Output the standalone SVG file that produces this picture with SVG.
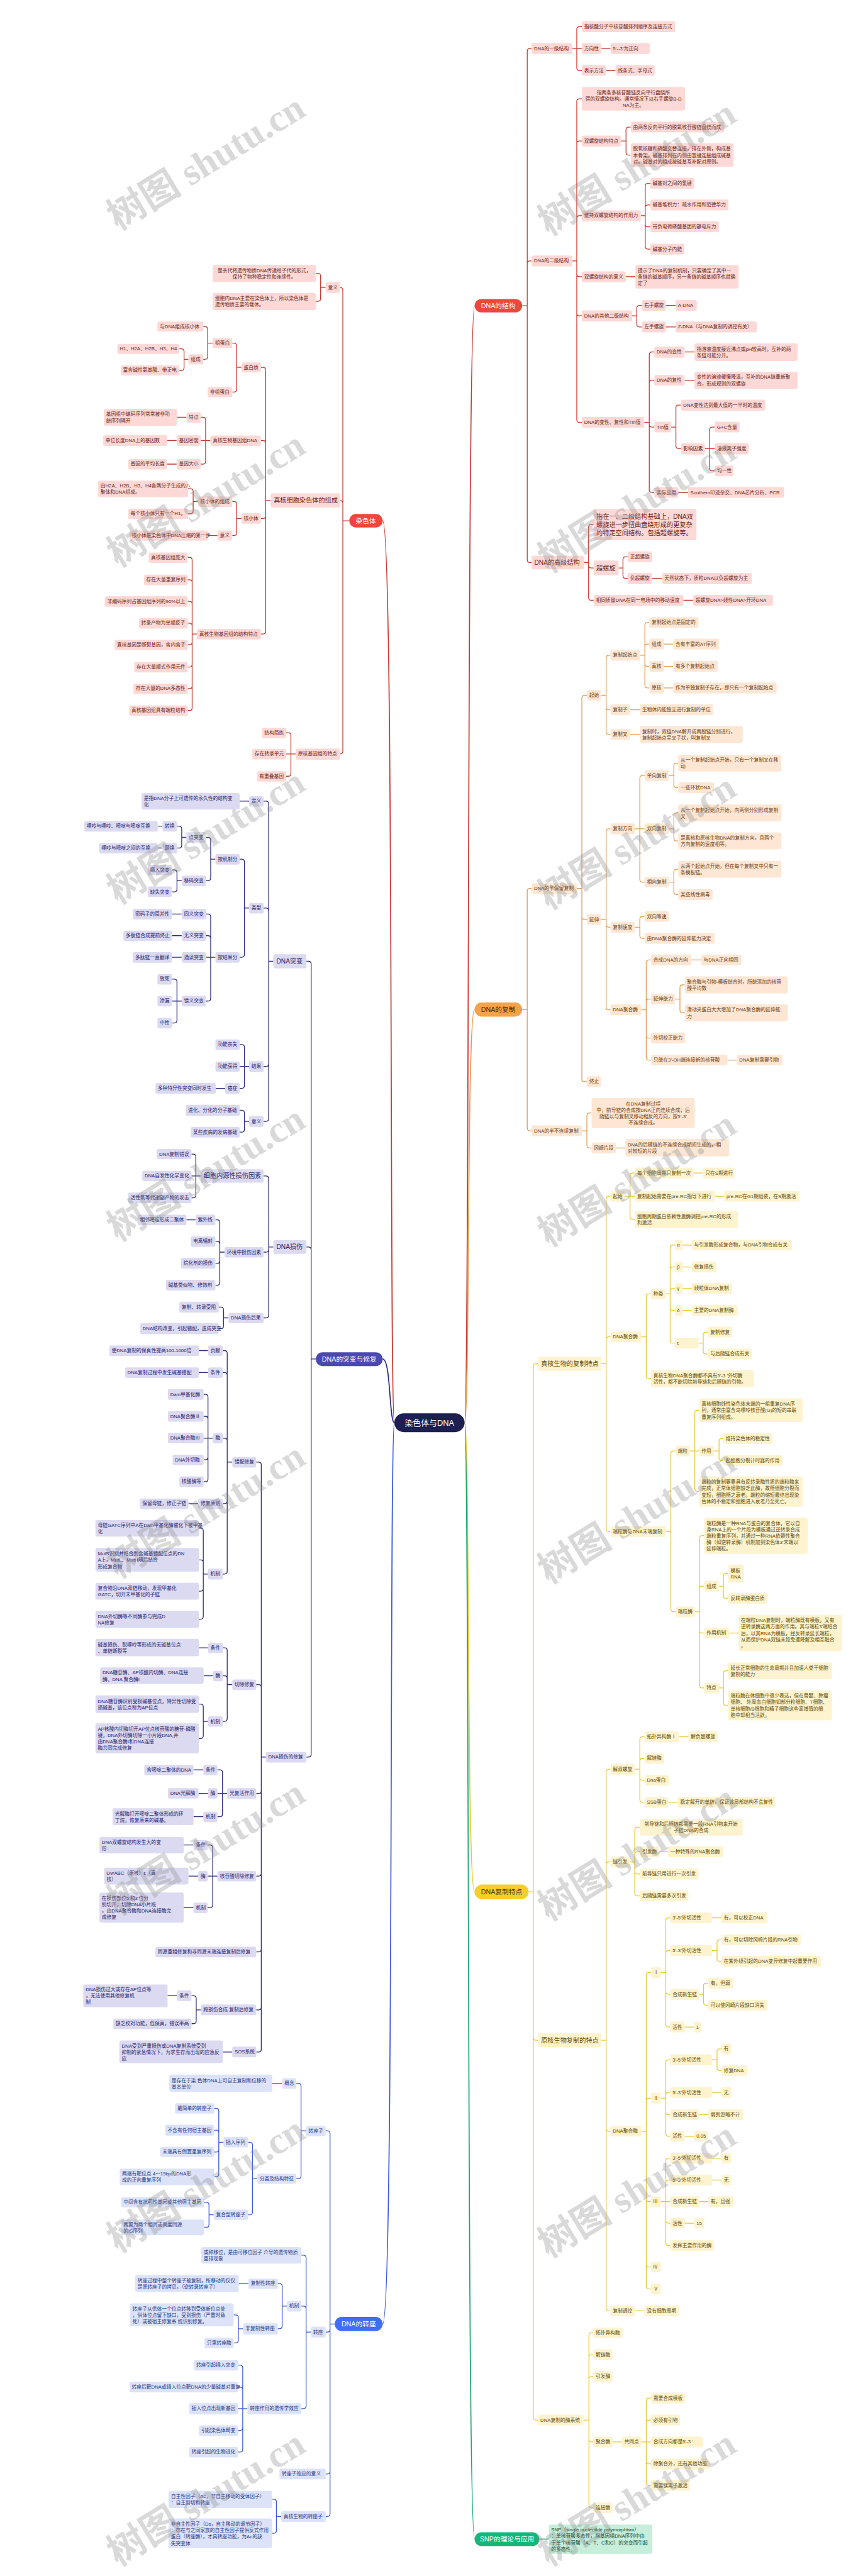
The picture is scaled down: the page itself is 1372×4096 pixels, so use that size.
<svg xmlns="http://www.w3.org/2000/svg" width="1372" height="4096" viewBox="0 0 1372 4096">
<style>
text{font-family:"Liberation Sans","Noto Sans CJK SC",sans-serif;font-size:14.5px;dominant-baseline:central}
rect{rx:6px;ry:6px}
.L{font-size:19px}
.c{text-anchor:middle}
.e{fill:none;stroke-width:2.4}
.m{fill:none;stroke-width:3.2}
.R rect{fill:#fcd9d6}.R text{fill:#6b1e16}
.O rect{fill:#fde7d4}.O text{fill:#6e3a10}
.Y rect{fill:#fdf3cf}.Y text{fill:#5e4a06}
.P rect{fill:#dcdaf1}.P text{fill:#25226a}
.B rect{fill:#dce3f8}.B text{fill:#1e3586}
.G rect{fill:#c6eedb}.G text{fill:#0c3f2b}
.er{stroke:#c8392e}.eo{stroke:#e99a4b}.ey{stroke:#ecc92c}.ep{stroke:#2e2c7e}.eb{stroke:#3b5ad8}.eg{stroke:#14a86f}
.mn text{font-size:20px;text-anchor:middle}
.wm text{font-family:"Liberation Serif","Noto Sans CJK SC",serif;font-weight:bold;font-size:112px;fill:#8a8a8a;opacity:0.32;dominant-baseline:auto}
</style>
<rect x="0" y="0" width="1372" height="4096" fill="#ffffff" style="rx:0"/>
<g transform="scale(0.5359375)">
<g id="connectors">
<path class="m er" d="M1378 4221C1394 4221 1384 907 1408 907M1170 4221C1154 4221 1170 1545 1135 1545"/>
<path class="m eo" d="M1378 4221C1394 4221 1384 2995 1408 2995"/>
<path class="m ey" d="M1378 4221C1394 4221 1384 5613 1408 5613"/>
<path class="m eg" d="M1378 4221C1394 4221 1384 7533 1408 7533"/>
<path class="m ep" d="M1170 4221C1154 4221 1160 4032 1135 4032"/>
<path class="m eb" d="M1170 4221C1154 4221 1170 6895 1135 6895"/>
<path class="e er" d="M1549 907H1564V152Q1564 144 1572 144H1577M1549 907H1564V782Q1564 774 1572 774H1577M1549 907H1564V1661Q1564 1669 1572 1669H1577M1698 144H1711V87Q1711 79 1719 79H1726M1698 144H1726M1698 144H1711V201Q1711 209 1719 209H1726M1784 144H1811M1798 209H1826M1698 774H1711V301Q1711 293 1719 293H1726M1698 774H1711V426Q1711 418 1719 418H1726M1698 774H1711V648Q1711 640 1719 640H1726M1698 774H1711V813Q1711 821 1719 821H1726M1698 774H1711V929Q1711 937 1719 937H1726M1698 774H1711V1245Q1711 1253 1719 1253H1726M1842 418H1857V385Q1857 377 1865 377H1871M1842 418H1857V452Q1857 460 1865 460H1871M1901 640H1914V552Q1914 544 1922 544H1929M1901 640H1914V616Q1914 608 1922 608H1929M1901 640H1914V665Q1914 673 1922 673H1929M1901 640H1914V731Q1914 739 1922 739H1929M1856 821H1885M1875 937H1889V914Q1889 906 1897 906H1904M1875 937H1889V962Q1889 970 1897 970H1904M1975 906H2004M1975 970H2004M1911 1253H1926V1052Q1926 1044 1934 1044H1941M1911 1253H1926V1136Q1926 1128 1934 1128H1941M1911 1253H1926V1259Q1926 1267 1934 1267H1941M1911 1253H1926V1453Q1926 1461 1934 1461H1941M2031 1044H2060M2031 1128H2060M2012 1461H2041M1991 1267H2005V1210Q2005 1202 2013 1202H2020M1991 1267H2005V1323Q2005 1331 2013 1331H2020M2091 1331H2105V1275Q2105 1267 2113 1267H2120M2091 1331H2120M2091 1331H2105V1389Q2105 1397 2113 1397H2120M1732 1669H1746V1564Q1746 1556 1754 1556H1761M1732 1669H1746V1677Q1746 1685 1754 1685H1761M1732 1669H1746V1773Q1746 1781 1754 1781H1761M1835 1685H1848V1660Q1848 1652 1856 1652H1862M1835 1685H1848V1708Q1848 1716 1856 1716H1862M1935 1716H1964M2027 1781H2056"/>
<path class="e eo" d="M1549 2995H1564V2644Q1564 2636 1572 2636H1577M1549 2995H1564V3347Q1564 3355 1572 3355H1577M1711 2636H1726V2071Q1726 2063 1734 2063H1741M1711 2636H1726V2720Q1726 2728 1734 2728H1741M1711 2636H1726V3201Q1726 3209 1734 3209H1741M1783 2063H1798V1952Q1798 1944 1806 1944H1811M1783 2063H1798V2098Q1798 2106 1806 2106H1811M1783 2063H1798V2171Q1798 2179 1806 2179H1811M1899 1944H1913V1855Q1913 1847 1921 1847H1926M1899 1944H1913V1919Q1913 1911 1921 1911H1926M1899 1944H1913V1969Q1913 1977 1921 1977H1926M1899 1944H1913V2033Q1913 2041 1921 2041H1926M1970 1911H1997M1970 1977H1997M1970 2041H1997M1869 2106H1898M1869 2179H1898M1783 2728H1798V2467Q1798 2459 1806 2459H1811M1783 2728H1798V2743Q1798 2751 1806 2751H1811M1783 2728H1798V2988Q1798 2996 1806 2996H1811M1883 2459H1898V2309Q1898 2301 1906 2301H1912M1883 2459H1912M1883 2459H1898V2609Q1898 2617 1906 2617H1912M1984 2301H1999V2272Q1999 2264 2007 2264H2012M1984 2301H1999V2329Q1999 2337 2007 2337H2012M1984 2459H1999V2420Q1999 2412 2007 2412H2012M1984 2459H1999V2487Q1999 2495 2007 2495H2012M1984 2617H1999V2587Q1999 2579 2007 2579H2012M1984 2617H1999V2646Q1999 2654 2007 2654H2012M1883 2751H1898V2727Q1898 2719 1906 2719H1912M1883 2751H1898V2776Q1898 2784 1906 2784H1912M1902 2996H1917V2856Q1917 2848 1925 2848H1931M1902 2996H1917V2972Q1917 2964 1925 2964H1931M1902 2996H1917V3072Q1917 3080 1925 3080H1931M1902 2996H1917V3137Q1917 3145 1925 3145H1931M2051 2848H2080M2002 2964H2017V2930Q2017 2922 2025 2922H2031M2002 2964H2017V2997Q2017 3005 2025 3005H2031M2158 3145H2186M1726 3355H1741V3310Q1741 3302 1749 3302H1755M1726 3355H1741V3398Q1741 3406 1749 3406H1755M1827 3406H1855"/>
<path class="e ey" d="M1568 5613H1582V4054Q1582 4046 1590 4046H1596M1568 5613H1582V6045Q1582 6053 1590 6053H1596M1568 5613H1582V7172Q1582 7180 1590 7180H1596M1784 4046H1798V3557Q1798 3549 1806 3549H1811M1784 4046H1798V3974Q1798 3966 1806 3966H1811M1784 4046H1798V4536Q1798 4544 1806 4544H1811M1854 3549H1869V3488Q1869 3480 1877 3480H1883M1854 3549H1883M1854 3549H1869V3610Q1869 3618 1877 3618H1883M2057 3480H2085M2121 3549H2148M1902 3966H1917V3847Q1917 3839 1925 3839H1931M1902 3966H1917V4082Q1917 4090 1925 4090H1931M1974 3839H1988V3702Q1988 3694 1996 3694H2002M1974 3839H1988V3767Q1988 3759 1996 3759H2002M1974 3839H1988V3831Q1988 3823 1996 3823H2002M1974 3839H1988V3880Q1988 3888 1996 3888H2002M1974 3839H1988V3977Q1988 3985 1996 3985H2002M2025 3694H2052M2025 3759H2052M2025 3823H2052M2025 3888H2052M2072 3985H2086V3960Q2086 3952 2094 3952H2100M2072 3985H2086V4009Q2086 4017 2094 4017H2100M1976 4544H1990V4313Q1990 4305 1998 4305H2005M1976 4544H1990V4774Q1990 4782 1998 4782H2005M2046 4305H2061V4192Q2061 4184 2069 4184H2074M2046 4305H2074M2046 4305H2061V4417Q2061 4425 2069 4425H2074M2118 4305H2133V4276Q2133 4268 2141 4268H2146M2118 4305H2133V4325Q2133 4333 2141 4333H2146M2061 4782H2075V4564Q2075 4556 2083 4556H2089M2061 4782H2075V4714Q2075 4706 2083 4706H2089M2061 4782H2075V4837Q2075 4845 2083 4845H2089M2061 4782H2075V5000Q2075 5008 2083 5008H2089M2133 4706H2146V4676Q2146 4668 2154 4668H2160M2133 4706H2146V4734Q2146 4742 2154 4742H2160M2163 4845H2191M2133 5008H2146V4965Q2146 4957 2154 4957H2160M2133 5008H2146V5052Q2146 5060 2154 5060H2160M1784 6053H1798V5257Q1798 5249 1806 5249H1811M1784 6053H1798V5532Q1798 5524 1806 5524H1811M1784 6053H1798V6315Q1798 6323 1806 6323H1811M1784 6053H1798V6848Q1798 6856 1806 6856H1811M1883 5249H1898V5161Q1898 5153 1906 5153H1912M1883 5249H1898V5225Q1898 5217 1906 5217H1912M1883 5249H1898V5274Q1898 5282 1906 5282H1912M1883 5249H1898V5339Q1898 5347 1906 5347H1912M2014 5153H2042M1982 5347H2011M1869 5524H1883V5429Q1883 5421 1891 5421H1898M1869 5524H1883V5502Q1883 5494 1891 5494H1898M1869 5524H1883V5552Q1883 5560 1891 5560H1898M1869 5524H1883V5617Q1883 5625 1891 5625H1898M1956 5494H1982M1902 6323H1917V5860Q1917 5852 1925 5852H1931M1902 6323H1917V6233Q1917 6225 1925 6225H1931M1902 6323H1917V6524Q1917 6532 1925 6532H1931M1902 6323H1917V6718Q1917 6726 1925 6726H1931M1902 6323H1917V6783Q1917 6791 1925 6791H1931M1960 5852H1975V5698Q1975 5690 1983 5690H1988M1960 5852H1975V5795Q1975 5787 1983 5787H1988M1960 5852H1975V5909Q1975 5917 1983 5917H1988M1960 5852H1975V6006Q1975 6014 1983 6014H1988M2112 5690H2140M2031 6014H2059M2112 5787H2127V5763Q2127 5755 2135 5755H2140M2112 5787H2127V5811Q2127 5819 2135 5819H2140M2074 5917H2087V5892Q2087 5884 2095 5884H2101M2074 5917H2087V5941Q2087 5949 2095 5949H2101M1960 6225H1975V6119Q1975 6111 1983 6111H1988M1960 6225H1975V6216Q1975 6208 1983 6208H1988M1960 6225H1975V6266Q1975 6274 1983 6274H1988M1960 6225H1975V6330Q1975 6338 1983 6338H1988M2112 6111H2127V6087Q2127 6079 2135 6079H2140M2112 6111H2127V6135Q2127 6143 2135 6143H2140M2112 6208H2140M2074 6274H2101M2031 6338H2059M1960 6532H1975V6411Q1975 6403 1983 6403H1988M1960 6532H1975V6476Q1975 6468 1983 6468H1988M1960 6532H1988M1960 6532H1975V6588Q1975 6596 1983 6596H1988M1960 6532H1975V6654Q1975 6662 1983 6662H1988M2112 6403H2140M2112 6468H2140M2074 6532H2101M2031 6596H2059M1883 6856H1912M1731 7180H1747V6929Q1747 6921 1755 6921H1760M1731 7180H1747V6994Q1747 6986 1755 6986H1760M1731 7180H1747V7059Q1747 7051 1755 7051H1760M1731 7180H1747V7237Q1747 7245 1755 7245H1760M1731 7180H1747V7432Q1747 7440 1755 7440H1760M1817 7245H1845M1902 7245H1917V7123Q1917 7115 1925 7115H1931M1902 7245H1917V7188Q1917 7180 1925 7180H1931M1902 7245H1931M1902 7245H1917V7302Q1917 7310 1925 7310H1931M1902 7245H1917V7366Q1917 7374 1925 7374H1931"/>
<path class="e eg" d="M1600 7533H1628"/>
<path class="e er" d="M1036 1545H1017V861Q1017 853 1009 853M1036 1545H1017V1493Q1017 1485 1009 1485M1036 1545H1017V2229Q1017 2237 1009 2237M966 853H951V819Q951 811 943 811H937M966 853H951V886Q951 894 943 894H937M803 1485H788V1098Q788 1090 780 1090H774M803 1485H788V1315Q788 1307 780 1307H774M803 1485H788V1530Q788 1538 780 1538H774M803 1485H788V1873Q788 1881 780 1881H774M716 1090H702V1026Q702 1018 694 1018H689M716 1090H702V1155Q702 1163 694 1163H689M631 1018H616V977Q616 969 608 969H603M631 1018H616V1058Q616 1066 608 1066H603M559 1066H546V1043Q546 1035 538 1035H532M559 1066H546V1091Q546 1099 538 1099H532M624 1307H610V1246Q610 1238 602 1238H596M624 1307H596M624 1307H610V1369Q610 1377 602 1377H596M553 1238H525M524 1307H496M524 1377H496M716 1538H702V1496Q702 1488 694 1488H689M716 1538H702V1581Q702 1589 694 1589H689M587 1488H573V1458Q573 1450 565 1450H558M587 1488H573V1516Q573 1524 565 1524H558M645 1589H617M584 1881H570V1662Q570 1654 562 1654H557M584 1881H570V1728Q570 1720 562 1720H557M584 1881H570V1792Q570 1784 562 1784H557M584 1881H570V1857Q570 1849 562 1849H557M584 1881H570V1905Q570 1913 562 1913H557M584 1881H570V1971Q570 1979 562 1979H557M584 1881H570V2035Q570 2043 562 2043H557M584 1881H570V2100Q570 2108 562 2108H557M877 2237H863V2182Q863 2174 855 2174H849M877 2237H849M877 2237H863V2295Q863 2303 855 2303H849"/>
<path class="e ep" d="M937 4032H923V2860Q923 2852 915 2852H909M937 4032H923V3708Q923 3700 915 3700H909M937 4032H923V5205Q923 5213 915 5213H909M811 2852H797V2385Q797 2377 789 2377H782M811 2852H797V2702Q797 2694 789 2694H782M811 2852H797V3156Q797 3164 789 3164H782M811 2852H797V3319Q797 3327 789 3327H782M739 2377H711M739 2694H725V2557Q725 2549 717 2549H711M739 2694H725V2832Q725 2840 717 2840H711M639 2549H625V2492Q625 2484 617 2484H611M639 2549H625V2605Q625 2613 617 2613H611M553 2484H539V2459Q539 2451 531 2451H525M553 2484H539V2508Q539 2516 531 2516H525M482 2451H468M482 2516H468M539 2613H525V2589Q525 2581 517 2581H510M539 2613H525V2638Q525 2646 517 2646H510M639 2840H625V2720Q625 2712 617 2712H611M639 2840H625V2784Q625 2776 617 2776H611M639 2840H611M639 2840H625V2962Q625 2970 617 2970H611M539 2712H510M539 2776H510M539 2840H510M539 2970H525V2913Q525 2905 517 2905H510M539 2970H510M539 2970H525V3027Q525 3035 517 3035H510M739 3164H725V3107Q725 3099 717 3099H711M739 3164H711M739 3164H725V3221Q725 3229 717 3229H711M668 3229H640M739 3327H725V3302Q725 3294 717 3294H711M739 3327H725V3351Q725 3359 717 3359H711M811 3700H797V3497Q797 3489 789 3489H782M811 3700H797V3707Q797 3715 789 3715H782M811 3700H797V3902Q797 3910 789 3910H782M595 3489H581V3432Q581 3424 573 3424H568M595 3489H568M595 3489H581V3546Q581 3554 573 3554H568M666 3715H652V3627Q652 3619 644 3619H639M666 3715H652V3691Q652 3683 644 3683H639M666 3715H652V3740Q652 3748 644 3748H639M666 3715H652V3805Q652 3813 644 3813H639M580 3619H553M678 3910H663V3886Q663 3878 655 3878H649M678 3910H663V3934Q663 3942 655 3942H649M789 5213H775V4346Q775 4338 767 4338H760M789 5213H775V5006Q775 4998 767 4998H760M789 5213H775V5313Q775 5321 767 5321H760M789 5213H775V5558Q775 5566 767 5566H760M789 5213H775V5783Q775 5791 767 5791H760M789 5213H775V5955Q775 5963 767 5963H760M789 5213H775V6080Q775 6088 767 6088H760M689 4338H674V4015Q674 4007 666 4007H661M689 4338H674V4080Q674 4072 666 4072H661M689 4338H674V4275Q674 4267 666 4267H661M689 4338H674V4453Q674 4461 666 4461H661M689 4338H674V4662Q674 4670 666 4670H661M617 4007H590M617 4072H590M588 4461H559M632 4267H617V4145Q617 4137 609 4137H604M632 4267H617V4210Q617 4202 609 4202H604M632 4267H604M632 4267H617V4323Q617 4331 609 4331H604M632 4267H617V4388Q617 4396 609 4396H604M617 4670H603V4542Q603 4534 595 4534H590M617 4670H603V4636Q603 4628 595 4628H590M617 4670H603V4713Q603 4721 595 4721H590M617 4670H603V4796Q603 4804 595 4804H590M689 4998H674V4897Q674 4889 666 4889H661M689 4998H674V4980Q674 4972 666 4972H661M689 4998H674V5099Q674 5107 666 5107H661M617 4889H590M632 4972H604M617 5107H603V5064Q603 5056 595 5056H590M617 5107H603V5150Q603 5158 595 5158H590M674 5321H660V5259Q660 5251 652 5251H645M674 5321H645M674 5321H660V5382Q660 5390 652 5390H645M603 5251H574M617 5321H589M603 5390H574M645 5566H631V5482Q631 5474 623 5474H616M645 5566H616M645 5566H631V5652Q631 5660 623 5660H616M574 5474H545M588 5566H559M574 5660H545M596 5963H582V5929Q582 5921 574 5921H568M596 5963H582V5996Q582 6004 574 6004H568M525 5921H497M689 6088H661"/>
<path class="e eb" d="M993 6895H979V6330Q979 6322 971 6322H966M993 6895H979V6911Q979 6919 971 6919H966M993 6895H979V7332Q979 7340 971 7340H966M993 6895H979V7458Q979 7466 971 7466H966M908 6322H893V6189Q893 6181 885 6181H879M908 6322H893V6456Q893 6464 885 6464H879M837 6181H808M763 6464H749V6364Q749 6356 741 6356H736M763 6464H749V6563Q749 6571 741 6571H736M663 6356H649V6263Q649 6255 641 6255H635M663 6356H649V6328Q649 6320 641 6320H635M663 6356H649V6377Q649 6385 641 6385H635M663 6356H649V6450Q649 6458 641 6458H635M634 6571H620V6542Q620 6534 612 6534H605M634 6571H620V6600Q620 6608 612 6608H605M922 6919H908V6699Q908 6691 900 6691H894M922 6919H908V6850Q908 6842 900 6842H894M922 6919H908V7138Q908 7146 900 7146H894M851 6842H837V6783Q837 6775 829 6775H824M851 6842H837V6901Q837 6909 829 6909H824M737 6775H708M721 6909H707V6876Q707 6868 699 6868H693M721 6909H707V6943Q707 6951 699 6951H693M734 7146H720V7025Q720 7017 712 7017H706M734 7146H720V7090Q720 7082 712 7082H706M734 7146H706M734 7146H720V7203Q720 7211 712 7211H706M734 7146H720V7267Q720 7275 712 7275H706M834 7466H820V7423Q820 7415 812 7415H807M834 7466H820V7508Q820 7516 812 7516H807"/>
</g>
<g id="nodes">
<g id="center" class="mn"><rect x="1170" y="4193" width="208" height="56" style="rx:28px;ry:28px" fill="#1c1f4f"/><text x="1274" y="4221" fill="#fff" style="font-size:24px">染色体与DNA</text></g>
<g id="m-structure" class="mn"><rect x="1408" y="887" width="141" height="40" style="rx:20px;ry:20px" fill="#f0463c"/><text x="1478" y="907" fill="#fff">DNA的结构</text></g>
<g id="m-replication" class="mn"><rect x="1408" y="2974" width="141" height="42" style="rx:21px;ry:21px" fill="#f5a24b"/><text x="1478" y="2995" fill="#4a2608">DNA的复制</text></g>
<g id="m-features" class="mn"><rect x="1408" y="5591" width="160" height="44" style="rx:22px;ry:22px" fill="#f6cf2a"/><text x="1488" y="5613" fill="#3d3208">DNA复制特点</text></g>
<g id="m-snp" class="mn"><rect x="1408" y="7513" width="192" height="41" style="rx:20px;ry:20px" fill="#16b67a"/><text x="1504" y="7533" fill="#fff">SNP的理论与应用</text></g>
<g id="m-chromosome" class="mn"><rect x="1036" y="1525" width="99" height="40" style="rx:20px;ry:20px" fill="#f0463c"/><text x="1085" y="1545" fill="#fff">染色体</text></g>
<g id="m-mutation" class="mn"><rect x="937" y="4012" width="198" height="41" style="rx:20px;ry:20px" fill="#4b48b2"/><text x="1036" y="4032" fill="#fff">DNA的突变与修复</text></g>
<g id="m-transposition" class="mn"><rect x="993" y="6874" width="142" height="42" style="rx:21px;ry:21px" fill="#3f6ff0"/><text x="1064" y="6895" fill="#fff">DNA的转座</text></g>

<g id="b-structure" class="R">
<g id="r1"><rect x="1577" y="128" width="121" height="32"/><text x="1584" y="144">DNA的一级结构</text></g>
<g id="r2"><rect x="1726" y="63" width="277" height="32"/><text x="1733" y="79">指核酸分子中核苷酸排列顺序及连接方式</text></g>
<g id="r3"><rect x="1726" y="128" width="58" height="32"/><text x="1733" y="144">方向性</text></g>
<g id="r4"><rect x="1811" y="128" width="117" height="32"/><text x="1818" y="144">5‘--3’为正向</text></g>
<g id="r5"><rect x="1726" y="193" width="72" height="32"/><text x="1733" y="209">表示方法</text></g>
<g id="r6"><rect x="1826" y="193" width="116" height="32"/><text x="1833" y="209">线条式、字母式</text></g>
<g id="r7"><rect x="1577" y="758" width="121" height="32"/><text x="1584" y="774">DNA的二级结构</text></g>
<g id="r8"><rect x="1726" y="258" width="306" height="70"/><text class="c" x="1879" y="274"><tspan x="1879" y="274">指两条多核苷酸链反向平行盘绕所</tspan><tspan x="1879" y="293">得的双螺旋结构。通常情况下以右手螺旋B-D</tspan><tspan x="1879" y="312">NA为主。</tspan></text></g>
<g id="r9"><rect x="1726" y="402" width="116" height="33"/><text x="1733" y="418">双螺旋结构特点</text></g>
<g id="r10"><rect x="1871" y="361" width="277" height="32"/><text x="1878" y="377">由两条反向平行的脱氧核苷酸链盘绕而成</text></g>
<g id="r11"><rect x="1871" y="425" width="305" height="70"/><text x="1878" y="441"><tspan x="1878" y="441">脱氧核糖和磷酸交替连接，排在外侧，构成基</tspan><tspan x="1878" y="460">本骨架，碱基排列在内侧由氢键连接组成碱基</tspan><tspan x="1878" y="479">对。碱基对的组成按碱基互补配对原则。</tspan></text></g>
<g id="r12"><rect x="1726" y="624" width="175" height="33"/><text x="1733" y="640">维持双螺旋结构的作用力</text></g>
<g id="r13"><rect x="1929" y="528" width="131" height="32"/><text x="1936" y="544">碱基对之间的氢键</text></g>
<g id="r14"><rect x="1929" y="592" width="232" height="32"/><text x="1936" y="608">碱基堆积力：疏水作用和范德华力</text></g>
<g id="r15"><rect x="1929" y="657" width="204" height="32"/><text x="1936" y="673">带负电荷磷酸基团的静电斥力</text></g>
<g id="r16"><rect x="1929" y="723" width="101" height="32"/><text x="1936" y="739">碱基分子内能</text></g>
<g id="r17"><rect x="1726" y="805" width="130" height="33"/><text x="1733" y="821">双螺旋结构的意义</text></g>
<g id="r18"><rect x="1885" y="786" width="306" height="70"/><text x="1892" y="802"><tspan x="1892" y="802">提示了DNA的复制机制，只要确定了其中一</tspan><tspan x="1892" y="821">条链的碱基顺序，另一条链的碱基顺序也就确</tspan><tspan x="1892" y="840">定了</tspan></text></g>
<g id="r19"><rect x="1726" y="921" width="149" height="33"/><text x="1733" y="937">DNA的其他二级结构</text></g>
<g id="r20"><rect x="1904" y="890" width="71" height="32"/><text x="1911" y="906">右手螺旋</text></g>
<g id="r21"><rect x="2004" y="890" width="63" height="32"/><text x="2011" y="906">A-DNA</text></g>
<g id="r22"><rect x="1904" y="954" width="71" height="32"/><text x="1911" y="970">左手螺旋</text></g>
<g id="r23"><rect x="2004" y="954" width="241" height="32"/><text x="2011" y="970">Z-DNA（与DNA复制的调控有关）</text></g>
<g id="r24"><rect x="1726" y="1237" width="185" height="32"/><text x="1733" y="1253">DNA的变性、复性和Tm值</text></g>
<g id="r25"><rect x="1941" y="1028" width="90" height="33"/><text x="1948" y="1044">DNA的变性</text></g>
<g id="r26"><rect x="2060" y="1019" width="306" height="52"/><text x="2067" y="1035"><tspan x="2067" y="1035.5">指溶液温度接近沸点或pH较高时，互补的两</tspan><tspan x="2067" y="1054.5">条链可能分开。</tspan></text></g>
<g id="r27"><rect x="1941" y="1112" width="90" height="32"/><text x="1948" y="1128">DNA的复性</text></g>
<g id="r28"><rect x="2060" y="1103" width="306" height="51"/><text x="2067" y="1118"><tspan x="2067" y="1118.5">变性的溶液缓慢降温，互补的DNA链重新聚</tspan><tspan x="2067" y="1137.5">合，形成规则的双螺旋</tspan></text></g>
<g id="r29"><rect x="1941" y="1251" width="50" height="32"/><text x="1948" y="1267">Tm值</text></g>
<g id="r30"><rect x="2020" y="1186" width="250" height="33"/><text x="2027" y="1202">DNA变性达到最大值的一半时的温度</text></g>
<g id="r31"><rect x="2020" y="1315" width="71" height="33"/><text x="2027" y="1331">影响因素</text></g>
<g id="r32"><rect x="2120" y="1251" width="74" height="32"/><text x="2127" y="1267">G+C含量</text></g>
<g id="r33"><rect x="2120" y="1315" width="101" height="33"/><text x="2127" y="1331">溶液离子强度</text></g>
<g id="r34"><rect x="2120" y="1381" width="56" height="32"/><text x="2127" y="1397">均一性</text></g>
<g id="r35"><rect x="1941" y="1445" width="71" height="32"/><text x="1948" y="1461">实际应用</text></g>
<g id="r36"><rect x="2041" y="1445" width="285" height="32"/><text x="2048" y="1461">Southern印迹杂交、DNA芯片分析、PCR</text></g>
<g id="r37"><rect x="1577" y="1649" width="155" height="40"/><text class="L" x="1585" y="1669">DNA的高级结构</text></g>
<g id="r38"><rect x="1761" y="1510" width="305" height="93"/><text class="L" x="1769" y="1531"><tspan x="1769" y="1531">指在一、二级结构基础上，DNA双</tspan><tspan x="1769" y="1556">螺旋进一步扭曲盘绕形成的更复杂</tspan><tspan x="1769" y="1581">的特定空间结构。包括超螺旋等。</tspan></text></g>
<g id="r39"><rect x="1761" y="1663" width="74" height="44"/><text class="L" x="1769" y="1685">超螺旋</text></g>
<g id="r40"><rect x="1862" y="1636" width="73" height="32"/><text x="1869" y="1652">正超螺旋</text></g>
<g id="r41"><rect x="1862" y="1700" width="73" height="33"/><text x="1869" y="1716">负超螺旋</text></g>
<g id="r42"><rect x="1964" y="1700" width="266" height="33"/><text x="1971" y="1716">天然状态下，质粒DNA以负超螺旋为主</text></g>
<g id="r43"><rect x="1761" y="1765" width="266" height="33"/><text x="1768" y="1781">相同质量DNA在同一电场中的移动速度</text></g>
<g id="r44"><rect x="2056" y="1765" width="237" height="33"/><text x="2063" y="1781">超螺旋DNA&gt;线性DNA&gt;开环DNA</text></g>
</g>

<g id="b-replication" class="O">
<g id="o1"><rect x="1577" y="2620" width="134" height="32"/><text x="1584" y="2636">DNA的半保留复制</text></g>
<g id="o2"><rect x="1741" y="2047" width="42" height="32"/><text x="1748" y="2063">起始</text></g>
<g id="o3"><rect x="1811" y="1928" width="88" height="32"/><text x="1818" y="1944">复制起始点</text></g>
<g id="o4"><rect x="1926" y="1831" width="146" height="32"/><text x="1933" y="1847">复制起始点是固定的</text></g>
<g id="o5"><rect x="1926" y="1895" width="44" height="32"/><text x="1933" y="1911">组成</text></g>
<g id="o6"><rect x="1997" y="1895" width="136" height="32"/><text x="2004" y="1911">含有丰富的AT序列</text></g>
<g id="o7"><rect x="1926" y="1961" width="44" height="32"/><text x="1933" y="1977">真核</text></g>
<g id="o8"><rect x="1997" y="1961" width="132" height="32"/><text x="2004" y="1977">有多个复制起始点</text></g>
<g id="o9"><rect x="1926" y="2025" width="44" height="32"/><text x="1933" y="2041">原核</text></g>
<g id="o10"><rect x="1997" y="2025" width="307" height="32"/><text x="2004" y="2041">作为单独复制子存在，即只有一个复制起始点</text></g>
<g id="o11"><rect x="1811" y="2090" width="58" height="32"/><text x="1818" y="2106">复制子</text></g>
<g id="o12"><rect x="1898" y="2090" width="217" height="32"/><text x="1905" y="2106">生物体内能独立进行复制的单位</text></g>
<g id="o13"><rect x="1811" y="2163" width="58" height="32"/><text x="1818" y="2179">复制叉</text></g>
<g id="o14"><rect x="1898" y="2154" width="305" height="50"/><text x="1905" y="2169"><tspan x="1905" y="2169.5">复制时，双链DNA解开成两股链分别进行，</tspan><tspan x="1905" y="2188.5">复制起始点呈叉子状，叫复制叉</tspan></text></g>
<g id="o15"><rect x="1741" y="2712" width="42" height="32"/><text x="1748" y="2728">延伸</text></g>
<g id="o16"><rect x="1811" y="2443" width="72" height="32"/><text x="1818" y="2459">复制方向</text></g>
<g id="o17"><rect x="1912" y="2285" width="72" height="32"/><text x="1919" y="2301">单向复制</text></g>
<g id="o18"><rect x="2012" y="2239" width="306" height="50"/><text x="2019" y="2254"><tspan x="2019" y="2254.5">从一个复制起始点开始，只有一个复制叉在移</tspan><tspan x="2019" y="2273.5">动</tspan></text></g>
<g id="o19"><rect x="2012" y="2321" width="106" height="32"/><text x="2019" y="2337">一些环状DNA</text></g>
<g id="o20"><rect x="1912" y="2443" width="72" height="32"/><text x="1919" y="2459">双向复制</text></g>
<g id="o21"><rect x="2012" y="2387" width="306" height="50"/><text x="2019" y="2402"><tspan x="2019" y="2402.5">从一个复制起始点开始，向两侧分别形成复制</tspan><tspan x="2019" y="2421.5">叉</tspan></text></g>
<g id="o22"><rect x="2012" y="2470" width="306" height="50"/><text x="2019" y="2485"><tspan x="2019" y="2485.5">是真核和原核生物DNA的复制方向，且两个</tspan><tspan x="2019" y="2504.5">方向复制的速度相等。</tspan></text></g>
<g id="o23"><rect x="1912" y="2601" width="72" height="32"/><text x="1919" y="2617">相向复制</text></g>
<g id="o24"><rect x="2012" y="2554" width="306" height="50"/><text x="2019" y="2569"><tspan x="2019" y="2569.5">从两个起始点开始，但在每个复制叉中只有一</tspan><tspan x="2019" y="2588.5">条模板链。</tspan></text></g>
<g id="o25"><rect x="2012" y="2638" width="102" height="32"/><text x="2019" y="2654">某些线性病毒</text></g>
<g id="o26"><rect x="1811" y="2735" width="72" height="32"/><text x="1818" y="2751">复制速度</text></g>
<g id="o27"><rect x="1912" y="2703" width="72" height="32"/><text x="1919" y="2719">双向等速</text></g>
<g id="o28"><rect x="1912" y="2768" width="208" height="32"/><text x="1919" y="2784">由DNA聚合酶的延伸能力决定</text></g>
<g id="o29"><rect x="1811" y="2980" width="91" height="32"/><text x="1818" y="2996">DNA聚合酶</text></g>
<g id="o30"><rect x="1931" y="2832" width="120" height="32"/><text x="1938" y="2848">合成DNA的方向</text></g>
<g id="o31"><rect x="2080" y="2832" width="119" height="32"/><text x="2087" y="2848">与DNA正向相同</text></g>
<g id="o32"><rect x="1931" y="2948" width="71" height="32"/><text x="1938" y="2964">延伸能力</text></g>
<g id="o33"><rect x="2031" y="2897" width="306" height="50"/><text x="2038" y="2912"><tspan x="2038" y="2912.5">聚合酶与引物-模板结合时，所能添加的核苷</tspan><tspan x="2038" y="2931.5">酸平均数</tspan></text></g>
<g id="o34"><rect x="2031" y="2980" width="306" height="50"/><text x="2038" y="2995"><tspan x="2038" y="2995.5">滑动夹蛋白大大增加了DNA聚合酶的延伸能</tspan><tspan x="2038" y="3014.5">力</tspan></text></g>
<g id="o35"><rect x="1931" y="3064" width="101" height="32"/><text x="1938" y="3080">外切校正能力</text></g>
<g id="o36"><rect x="1931" y="3129" width="227" height="32"/><text x="1938" y="3145">只能在3’-OH端连接新的核苷酸</text></g>
<g id="o37"><rect x="2186" y="3129" width="135" height="32"/><text x="2193" y="3145">DNA复制需要引物</text></g>
<g id="o38"><rect x="1741" y="3193" width="42" height="32"/><text x="1748" y="3209">终止</text></g>
<g id="o39"><rect x="1577" y="3339" width="149" height="32"/><text x="1584" y="3355">DNA的半不连续复制</text></g>
<g id="o40"><rect x="1755" y="3258" width="306" height="89"/><text class="c" x="1908" y="3274"><tspan x="1908" y="3274">在DNA复制过程</tspan><tspan x="1908" y="3293">中，前导链的合成按DNA正向连续合成；后</tspan><tspan x="1908" y="3312">随链以与复制叉移动相反的方向，按5’-3’</tspan><tspan x="1908" y="3331">不连续合成。</tspan></text></g>
<g id="o41"><rect x="1755" y="3390" width="72" height="32"/><text x="1762" y="3406">冈崎片段</text></g>
<g id="o42"><rect x="1855" y="3379" width="308" height="52"/><text x="1862" y="3395"><tspan x="1862" y="3395.5">DNA的后随链的不连续合成期间生成的，相</tspan><tspan x="1862" y="3414.5">对较短的片段</tspan></text></g>
</g>

<g id="b-features" class="Y">
<g id="y1"><rect x="1596" y="4025" width="188" height="42"/><text class="L" x="1605" y="4046">真核生物的复制特点</text></g>
<g id="y2"><rect x="1811" y="3533" width="43" height="32"/><text x="1818" y="3549">起始</text></g>
<g id="y3"><rect x="1883" y="3464" width="174" height="32"/><text x="1890" y="3480">每个细胞周期只复制一次</text></g>
<g id="y4"><rect x="2085" y="3464" width="94" height="32"/><text x="2092" y="3480">只在S期进行</text></g>
<g id="y5"><rect x="1883" y="3533" width="238" height="32"/><text x="1890" y="3549">复制起始需要在pre-RC指导下进行</text></g>
<g id="y6"><rect x="2148" y="3533" width="223" height="32"/><text x="2155" y="3549">pre-RC在G1期组装，在S期激活</text></g>
<g id="y7"><rect x="1883" y="3593" width="306" height="51"/><text x="1890" y="3608"><tspan x="1890" y="3608.5">细胞周期蛋白依赖性激酶调控pre-RC的形成</tspan><tspan x="1890" y="3627.5">和激活</tspan></text></g>
<g id="y8"><rect x="1811" y="3950" width="91" height="32"/><text x="1818" y="3966">DNA聚合酶</text></g>
<g id="y9"><rect x="1931" y="3823" width="43" height="32"/><text x="1938" y="3839">种类</text></g>
<g id="y10"><rect x="2002" y="3678" width="23" height="32"/><text x="2008" y="3694">α</text></g>
<g id="y11"><rect x="2052" y="3678" width="297" height="32"/><text x="2059" y="3694">与引发酶形成复合物，与DNA引物合成有关</text></g>
<g id="y12"><rect x="2002" y="3743" width="23" height="32"/><text x="2008" y="3759">β</text></g>
<g id="y13"><rect x="2052" y="3743" width="73" height="32"/><text x="2059" y="3759">修复损伤</text></g>
<g id="y14"><rect x="2002" y="3807" width="23" height="32"/><text x="2008" y="3823">γ</text></g>
<g id="y15"><rect x="2052" y="3807" width="120" height="32"/><text x="2059" y="3823">线粒体DNA复制</text></g>
<g id="y16"><rect x="2002" y="3872" width="23" height="32"/><text x="2008" y="3888">δ</text></g>
<g id="y17"><rect x="2052" y="3872" width="136" height="32"/><text x="2059" y="3888">主要的DNA复制酶</text></g>
<g id="y18"><rect x="2002" y="3969" width="70" height="32"/><text x="2008" y="3985">ε</text></g>
<g id="y19"><rect x="2100" y="3936" width="72" height="32"/><text x="2107" y="3952">复制修复</text></g>
<g id="y20"><rect x="2100" y="4001" width="130" height="32"/><text x="2107" y="4017">与后随链合成有关</text></g>
<g id="y21"><rect x="1931" y="4065" width="305" height="51"/><text x="1938" y="4080"><tspan x="1938" y="4080.5">真核生物DNA聚合酶都不具有5’-3 ’外切酶</tspan><tspan x="1938" y="4099.5">活性，都不能切除前导链和后随链的引物。</tspan></text></g>
<g id="y22"><rect x="1811" y="4528" width="165" height="32"/><text x="1818" y="4544">端粒酶与DNA末端复制</text></g>
<g id="y23"><rect x="2005" y="4289" width="41" height="32"/><text x="2011" y="4305">端粒</text></g>
<g id="y24"><rect x="2074" y="4149" width="307" height="70"/><text x="2081" y="4165"><tspan x="2081" y="4165">真核细胞线性染色体末端的一组重复DNA序</tspan><tspan x="2081" y="4184">列，通常由富含鸟嘌呤核苷酸(G)的短的串联</tspan><tspan x="2081" y="4203">重复序列组成。</tspan></text></g>
<g id="y25"><rect x="2074" y="4289" width="44" height="32"/><text x="2081" y="4305">作用</text></g>
<g id="y26"><rect x="2146" y="4252" width="145" height="32"/><text x="2153" y="4268">维持染色体的稳定性</text></g>
<g id="y27"><rect x="2146" y="4317" width="175" height="32"/><text x="2153" y="4333">起细胞分裂计时器的作用</text></g>
<g id="y28"><rect x="2074" y="4380" width="307" height="90"/><text x="2081" y="4396"><tspan x="2081" y="4396.5">端粒的复制要靠具有反转录酶性质的端粒酶来</tspan><tspan x="2081" y="4415.5">完成，正常体细胞缺乏此酶，故随细胞分裂而</tspan><tspan x="2081" y="4434.5">变短，细胞随之衰老。端粒的缩短最终出现染</tspan><tspan x="2081" y="4453.5">色体的不稳定和细胞进入衰老乃至死亡。</tspan></text></g>
<g id="y29"><rect x="2005" y="4766" width="56" height="32"/><text x="2011" y="4782">端粒酶</text></g>
<g id="y30"><rect x="2089" y="4503" width="307" height="107"/><text x="2096" y="4518"><tspan x="2096" y="4518.5">端粒酶是一种RNA与蛋白的复合体，它以自</tspan><tspan x="2096" y="4537.5">身RNA上的一个片段为模板通过逆转录合成</tspan><tspan x="2096" y="4556.5">端粒重复序列，并通过一种RNA依赖性聚合</tspan><tspan x="2096" y="4575.5">酶（如逆转录酶）机制加到染色体3’末端以</tspan><tspan x="2096" y="4594.5">延伸端粒。</tspan></text></g>
<g id="y31"><rect x="2089" y="4690" width="44" height="32"/><text x="2096" y="4706">组成</text></g>
<g id="y32"><rect x="2160" y="4642" width="46" height="53"/><text x="2167" y="4659"><tspan x="2167" y="4659">模板</tspan><tspan x="2167" y="4678">RNA</tspan></text></g>
<g id="y33"><rect x="2160" y="4726" width="117" height="32"/><text x="2167" y="4742">反转录酶蛋白质</text></g>
<g id="y34"><rect x="2089" y="4829" width="74" height="32"/><text x="2096" y="4845">作用机制</text></g>
<g id="y35"><rect x="2191" y="4791" width="306" height="108"/><text x="2198" y="4807"><tspan x="2198" y="4807">在端粒DNA复制时，端粒酶既有模板，又有</tspan><tspan x="2198" y="4826">逆转录酶这两方面的作用。其与端粒3'端结合</tspan><tspan x="2198" y="4845">后，以其RNA为模板，经反转录延长端粒，</tspan><tspan x="2198" y="4864">从而保护DNA双链末段免遭降解及相互融合</tspan><tspan x="2198" y="4883">。</tspan></text></g>
<g id="y36"><rect x="2089" y="4992" width="44" height="32"/><text x="2096" y="5008">特点</text></g>
<g id="y37"><rect x="2160" y="4932" width="308" height="50"/><text x="2167" y="4947"><tspan x="2167" y="4947.5">延长正常细胞的生命周期并且加速人类干细胞</tspan><tspan x="2167" y="4966.5">复制的能力</tspan></text></g>
<g id="y38"><rect x="2160" y="5015" width="308" height="89"/><text x="2167" y="5031"><tspan x="2167" y="5031">端粒酶在体细胞中很少表达，但在骨髓、肿瘤</tspan><tspan x="2167" y="5050">细胞、 外周血白细胞如部分粒细胞、T细胞、</tspan><tspan x="2167" y="5069">单核细胞/B细胞和精子细胞这些高增殖的细</tspan><tspan x="2167" y="5088">胞中却相当活跃。</tspan></text></g>
<g id="y39"><rect x="1596" y="6032" width="188" height="42"/><text class="L" x="1605" y="6053">原核生物复制的特点</text></g>
<g id="y40"><rect x="1811" y="5233" width="72" height="32"/><text x="1818" y="5249">解双螺旋</text></g>
<g id="y41"><rect x="1912" y="5137" width="102" height="32"/><text x="1919" y="5153">拓扑异构酶Ⅰ</text></g>
<g id="y42"><rect x="2042" y="5137" width="87" height="32"/><text x="2049" y="5153">解负超螺旋</text></g>
<g id="y43"><rect x="1912" y="5201" width="58" height="32"/><text x="1919" y="5217">解链酶</text></g>
<g id="y44"><rect x="1912" y="5266" width="72" height="32"/><text x="1919" y="5282">Dna蛋白</text></g>
<g id="y45"><rect x="1912" y="5331" width="70" height="32"/><text x="1919" y="5347">SSB蛋白</text></g>
<g id="y46"><rect x="2011" y="5331" width="289" height="32"/><text x="2018" y="5347">稳定解开的单链，保证该局部结构不会复性</text></g>
<g id="y47"><rect x="1811" y="5508" width="58" height="32"/><text x="1818" y="5524">链引发</text></g>
<g id="y48"><rect x="1898" y="5396" width="305" height="50"/><text class="c" x="2050" y="5411"><tspan x="2050" y="5411.5">前导链和后随链都需要一段RNA引物来开始</tspan><tspan x="2050" y="5430.5">子链DNA的合成</tspan></text></g>
<g id="y49"><rect x="1898" y="5478" width="58" height="32"/><text x="1905" y="5494">引发酶</text></g>
<g id="y50"><rect x="1982" y="5478" width="164" height="32"/><text x="1989" y="5494">一种特殊的RNA聚合酶</text></g>
<g id="y51"><rect x="1898" y="5544" width="174" height="32"/><text x="1905" y="5560">前导链只用进行一次引发</text></g>
<g id="y52"><rect x="1898" y="5609" width="144" height="32"/><text x="1905" y="5625">后随链需要多次引发</text></g>
<g id="y53"><rect x="1811" y="6307" width="91" height="32"/><text x="1818" y="6323">DNA聚合酶</text></g>
<g id="y54"><rect x="1931" y="5836" width="29" height="32"/><text x="1939" y="5852">Ⅰ</text></g>
<g id="y55"><rect x="1988" y="5674" width="124" height="32"/><text x="1995" y="5690">3’-5’外切活性</text></g>
<g id="y56"><rect x="2140" y="5674" width="136" height="32"/><text x="2147" y="5690">有，可以校正DNA</text></g>
<g id="y57"><rect x="1988" y="5771" width="124" height="32"/><text x="1995" y="5787">5’-3’外切活性</text></g>
<g id="y58"><rect x="2140" y="5739" width="236" height="32"/><text x="2147" y="5755">有，可以切除冈崎片段的RNA引物</text></g>
<g id="y59"><rect x="2140" y="5803" width="296" height="32"/><text x="2147" y="5819">在紫外线引起的DNA变异修复中起重要作用</text></g>
<g id="y60"><rect x="1988" y="5901" width="86" height="32"/><text x="1995" y="5917">合成新生链</text></g>
<g id="y61"><rect x="2101" y="5868" width="73" height="32"/><text x="2108" y="5884">有，但弱</text></g>
<g id="y62"><rect x="2101" y="5933" width="175" height="32"/><text x="2108" y="5949">可以使冈崎片段缺口消失</text></g>
<g id="y63"><rect x="1988" y="5998" width="43" height="32"/><text x="1995" y="6014">活性</text></g>
<g id="y64"><rect x="2059" y="5998" width="21" height="32"/><text x="2065" y="6014">1</text></g>
<g id="y65"><rect x="1931" y="6209" width="29" height="32"/><text x="1938" y="6225">Ⅱ</text></g>
<g id="y66"><rect x="1988" y="6095" width="124" height="32"/><text x="1995" y="6111">3’-5’外切活性</text></g>
<g id="y67"><rect x="2140" y="6063" width="29" height="32"/><text x="2147" y="6079">有</text></g>
<g id="y68"><rect x="2140" y="6127" width="77" height="32"/><text x="2147" y="6143">修复DNA</text></g>
<g id="y69"><rect x="1988" y="6192" width="124" height="32"/><text x="1995" y="6208">5’-3’外切活性</text></g>
<g id="y70"><rect x="2140" y="6192" width="29" height="32"/><text x="2147" y="6208">无</text></g>
<g id="y71"><rect x="1988" y="6258" width="86" height="32"/><text x="1995" y="6274">合成新生链</text></g>
<g id="y72"><rect x="2101" y="6258" width="103" height="32"/><text x="2108" y="6274">弱到忽略不计</text></g>
<g id="y73"><rect x="1988" y="6322" width="43" height="32"/><text x="1995" y="6338">活性</text></g>
<g id="y74"><rect x="2059" y="6322" width="42" height="32"/><text x="2066" y="6338">0.05</text></g>
<g id="y75"><rect x="1931" y="6516" width="29" height="32"/><text x="1937" y="6532">Ⅲ</text></g>
<g id="y76"><rect x="1988" y="6387" width="124" height="32"/><text x="1995" y="6403">3’-5’外切活性</text></g>
<g id="y77"><rect x="2140" y="6387" width="29" height="32"/><text x="2147" y="6403">有</text></g>
<g id="y78"><rect x="1988" y="6452" width="124" height="32"/><text x="1995" y="6468">5’-3’外切活性</text></g>
<g id="y79"><rect x="2140" y="6452" width="29" height="32"/><text x="2147" y="6468">无</text></g>
<g id="y80"><rect x="1988" y="6516" width="86" height="32"/><text x="1995" y="6532">合成新生链</text></g>
<g id="y81"><rect x="2101" y="6516" width="73" height="32"/><text x="2108" y="6532">有，且强</text></g>
<g id="y82"><rect x="1988" y="6580" width="43" height="32"/><text x="1995" y="6596">活性</text></g>
<g id="y83"><rect x="2059" y="6580" width="30" height="32"/><text x="2066" y="6596">15</text></g>
<g id="y84"><rect x="1988" y="6646" width="130" height="32"/><text x="1995" y="6662">发挥主要作用的酶</text></g>
<g id="y85"><rect x="1931" y="6710" width="29" height="32"/><text x="1937" y="6726">Ⅳ</text></g>
<g id="y86"><rect x="1931" y="6775" width="29" height="32"/><text x="1938" y="6791">Ⅴ</text></g>
<g id="y87"><rect x="1811" y="6840" width="72" height="32"/><text x="1818" y="6856">复制调控</text></g>
<g id="y88"><rect x="1912" y="6840" width="102" height="32"/><text x="1919" y="6856">没有细胞周期</text></g>
<g id="y89"><rect x="1596" y="7164" width="135" height="32"/><text x="1603" y="7180">DNA复制的酶系统</text></g>
<g id="y90"><rect x="1760" y="6905" width="87" height="32"/><text x="1767" y="6921">拓扑异构酶</text></g>
<g id="y91"><rect x="1760" y="6970" width="57" height="32"/><text x="1767" y="6986">解链酶</text></g>
<g id="y92"><rect x="1760" y="7035" width="57" height="32"/><text x="1767" y="7051">引发酶</text></g>
<g id="y93"><rect x="1760" y="7229" width="57" height="32"/><text x="1767" y="7245">聚合酶</text></g>
<g id="y94"><rect x="1845" y="7229" width="57" height="32"/><text x="1852" y="7245">共同点</text></g>
<g id="y95"><rect x="1931" y="7099" width="101" height="32"/><text x="1938" y="7115">需要合成模板</text></g>
<g id="y96"><rect x="1931" y="7164" width="86" height="32"/><text x="1938" y="7180">必须有引物</text></g>
<g id="y97"><rect x="1931" y="7229" width="154" height="32"/><text x="1938" y="7245">合成方向都是5’-3 ‘</text></g>
<g id="y98"><rect x="1931" y="7294" width="174" height="32"/><text x="1938" y="7310">除聚合外，还有其他功能</text></g>
<g id="y99"><rect x="1931" y="7358" width="116" height="32"/><text x="1938" y="7374">需要镁离子激活</text></g>
<g id="y100"><rect x="1760" y="7424" width="57" height="32"/><text x="1767" y="7440">连接酶</text></g>
</g>

<g id="b-snp" class="G">
<g id="g1"><rect x="1628" y="7490" width="307" height="87"/><text x="1635" y="7505"><tspan x="1635" y="7505">SNP（single nucleotide polymorphism）</tspan><tspan x="1635" y="7524">：单核苷酸多态性，指基因组DNA序列中由</tspan><tspan x="1635" y="7543">于单个核苷酸（A、T、C和G）的突变而引起</tspan><tspan x="1635" y="7562">的多态性。</tspan></text></g>
</g>

<g id="b-chromosome" class="R">
<g id="c1"><rect x="966" y="837" width="43" height="32"/><text x="973" y="853">意义</text></g>
<g id="c2"><rect x="631" y="786" width="306" height="51"/><text class="c" x="784" y="801"><tspan x="784" y="801.5">是亲代将遗传物质DNA传递给子代的形式，</tspan><tspan x="784" y="820.5">保持了物种稳定性和连续性。</tspan></text></g>
<g id="c3"><rect x="631" y="869" width="306" height="51"/><text x="638" y="884"><tspan x="638" y="884.5">细胞内DNA主要在染色体上，所以染色体是</tspan><tspan x="638" y="903.5">遗传物质主要的载体。</tspan></text></g>
<g id="c4"><rect x="803" y="1464" width="206" height="42"/><text class="L" x="812" y="1485">真核细胞染色体的组成</text></g>
<g id="c5"><rect x="716" y="1075" width="58" height="30"/><text x="723" y="1090">蛋白质</text></g>
<g id="c6"><rect x="631" y="1003" width="58" height="30"/><text x="638" y="1018">组蛋白</text></g>
<g id="c7"><rect x="467" y="954" width="136" height="30"/><text x="474" y="969">与DNA组成核小体</text></g>
<g id="c8"><rect x="559" y="1051" width="44" height="30"/><text x="566" y="1066">组成</text></g>
<g id="c9"><rect x="348" y="1020" width="184" height="30"/><text x="355" y="1035">H1、H2A、H2B、H3、H4</text></g>
<g id="c10"><rect x="358" y="1084" width="174" height="30"/><text x="365" y="1099">富含碱性氨基酸、带正电</text></g>
<g id="c11"><rect x="616" y="1148" width="73" height="31"/><text x="623" y="1163">非组蛋白</text></g>
<g id="c12"><rect x="624" y="1292" width="150" height="31"/><text x="631" y="1307">真核生物基因组DNA</text></g>
<g id="c13"><rect x="553" y="1223" width="43" height="31"/><text x="560" y="1238">特点</text></g>
<g id="c14"><rect x="308" y="1213" width="217" height="50"/><text x="315" y="1228"><tspan x="315" y="1228.5">基因组中编码序列常常被非功</tspan><tspan x="315" y="1247.5">能序列隔开</tspan></text></g>
<g id="c15"><rect x="524" y="1291" width="72" height="32"/><text x="531" y="1307">基因密度</text></g>
<g id="c16"><rect x="306" y="1291" width="190" height="32"/><text x="313" y="1307">单位长度DNA上的基因数</text></g>
<g id="c17"><rect x="524" y="1362" width="72" height="31"/><text x="531" y="1377">基因大小</text></g>
<g id="c18"><rect x="380" y="1362" width="116" height="31"/><text x="387" y="1377">基因的平均长度</text></g>
<g id="c19"><rect x="716" y="1523" width="58" height="31"/><text x="723" y="1538">核小体</text></g>
<g id="c20"><rect x="587" y="1473" width="102" height="31"/><text x="594" y="1488">核小体的组成</text></g>
<g id="c21"><rect x="291" y="1426" width="267" height="49"/><text x="298" y="1441"><tspan x="298" y="1441">由H2A、H2B、H3、H4各两分子生成的八</tspan><tspan x="298" y="1460">聚体和DNA组成。</tspan></text></g>
<g id="c22"><rect x="380" y="1509" width="178" height="31"/><text x="387" y="1524">每个核小体只有一个H1。</text></g>
<g id="c23"><rect x="645" y="1574" width="44" height="30"/><text x="652" y="1589">意义</text></g>
<g id="c24"><rect x="384" y="1574" width="233" height="30"/><text x="391" y="1589">核小体是染色体中DNA压缩的第一步</text></g>
<g id="c25"><rect x="584" y="1866" width="190" height="31"/><text x="591" y="1881">真核生物基因组的结构特点</text></g>
<g id="c26"><rect x="441" y="1639" width="116" height="31"/><text x="448" y="1654">真核基因组庞大</text></g>
<g id="c27"><rect x="427" y="1705" width="130" height="31"/><text x="434" y="1720">存在大量重复序列</text></g>
<g id="c28"><rect x="311" y="1769" width="246" height="31"/><text x="318" y="1784">非编码序列占基因组序列的90%以上</text></g>
<g id="c29"><rect x="412" y="1834" width="145" height="31"/><text x="419" y="1849">转录产物为单顺反子</text></g>
<g id="c30"><rect x="340" y="1898" width="217" height="31"/><text x="347" y="1913">真核基因是断裂基因，含内含子</text></g>
<g id="c31"><rect x="398" y="1964" width="159" height="31"/><text x="405" y="1979">存在大量顺式作用元件</text></g>
<g id="c32"><rect x="396" y="2028" width="161" height="31"/><text x="403" y="2043">存在大量的DNA多态性</text></g>
<g id="c33"><rect x="383" y="2093" width="174" height="31"/><text x="390" y="2108">真核基因组具有端粒结构</text></g>
<g id="c34"><rect x="877" y="2221" width="132" height="33"/><text x="884" y="2237">原核基因组的特点</text></g>
<g id="c35"><rect x="777" y="2159" width="72" height="31"/><text x="784" y="2174">结构简练</text></g>
<g id="c36"><rect x="748" y="2222" width="101" height="31"/><text x="755" y="2237">存在转录单元</text></g>
<g id="c37"><rect x="762" y="2288" width="87" height="31"/><text x="769" y="2303">有重叠基因</text></g>
</g>

<g id="b-mutation" class="P">
<g id="p1"><rect x="811" y="2831" width="98" height="42"/><text class="L" x="820" y="2852">DNA突变</text></g>
<g id="p2"><rect x="739" y="2362" width="43" height="31"/><text x="746" y="2377">定义</text></g>
<g id="p3"><rect x="420" y="2353" width="291" height="49"/><text x="427" y="2368"><tspan x="427" y="2368">是指DNA分子上可遗传的永久性的结构变</tspan><tspan x="427" y="2387">化</tspan></text></g>
<g id="p4"><rect x="739" y="2679" width="43" height="31"/><text x="746" y="2694">类型</text></g>
<g id="p5"><rect x="639" y="2534" width="72" height="31"/><text x="646" y="2549">按机制分</text></g>
<g id="p6"><rect x="553" y="2469" width="58" height="31"/><text x="560" y="2484">点突变</text></g>
<g id="p7"><rect x="482" y="2436" width="43" height="31"/><text x="489" y="2451">转换</text></g>
<g id="p8"><rect x="250" y="2436" width="218" height="31"/><text x="257" y="2451">嘌呤与嘌呤、嘧啶与嘧啶互换</text></g>
<g id="p9"><rect x="482" y="2501" width="43" height="31"/><text x="489" y="2516">颠换</text></g>
<g id="p10"><rect x="294" y="2501" width="174" height="31"/><text x="301" y="2516">嘌呤与嘧啶之间的互换</text></g>
<g id="p11"><rect x="539" y="2598" width="72" height="31"/><text x="546" y="2613">移码突变</text></g>
<g id="p12"><rect x="438" y="2566" width="72" height="31"/><text x="445" y="2581">插入突变</text></g>
<g id="p13"><rect x="438" y="2630" width="72" height="31"/><text x="445" y="2646">缺失突变</text></g>
<g id="p14"><rect x="639" y="2825" width="72" height="31"/><text x="646" y="2840">按结果分</text></g>
<g id="p15"><rect x="539" y="2696" width="72" height="32"/><text x="546" y="2712">同义突变</text></g>
<g id="p16"><rect x="394" y="2696" width="116" height="32"/><text x="401" y="2712">密码子的简并性</text></g>
<g id="p17"><rect x="539" y="2761" width="72" height="31"/><text x="546" y="2776">无义突变</text></g>
<g id="p18"><rect x="366" y="2761" width="144" height="31"/><text x="373" y="2776">多肽链合成提前终止</text></g>
<g id="p19"><rect x="539" y="2825" width="72" height="31"/><text x="546" y="2840">通读突变</text></g>
<g id="p20"><rect x="394" y="2825" width="116" height="31"/><text x="401" y="2840">多肽链一直翻译</text></g>
<g id="p21"><rect x="539" y="2954" width="72" height="32"/><text x="546" y="2970">错义突变</text></g>
<g id="p22"><rect x="467" y="2890" width="43" height="31"/><text x="474" y="2905">致死</text></g>
<g id="p23"><rect x="467" y="2954" width="43" height="32"/><text x="474" y="2970">渗漏</text></g>
<g id="p24"><rect x="467" y="3020" width="43" height="31"/><text x="474" y="3035">中性</text></g>
<g id="p25"><rect x="739" y="3148" width="43" height="33"/><text x="746" y="3164">结果</text></g>
<g id="p26"><rect x="639" y="3084" width="72" height="31"/><text x="646" y="3099">功能丧失</text></g>
<g id="p27"><rect x="639" y="3149" width="72" height="31"/><text x="646" y="3164">功能获得</text></g>
<g id="p28"><rect x="668" y="3213" width="43" height="32"/><text x="675" y="3229">癌症</text></g>
<g id="p29"><rect x="461" y="3213" width="179" height="32"/><text x="468" y="3229">多种特异性突变同时发生</text></g>
<g id="p30"><rect x="739" y="3311" width="43" height="32"/><text x="746" y="3327">意义</text></g>
<g id="p31"><rect x="551" y="3278" width="160" height="33"/><text x="558" y="3294">进化、分化的分子基础</text></g>
<g id="p32"><rect x="566" y="3343" width="145" height="32"/><text x="573" y="3359">某些疾病的发病基础</text></g>
<g id="p33"><rect x="811" y="3679" width="98" height="41"/><text class="L" x="820" y="3700">DNA损伤</text></g>
<g id="p34"><rect x="595" y="3469" width="187" height="40"/><text class="L" x="604" y="3489">细胞内源性损伤因素</text></g>
<g id="p35"><rect x="465" y="3409" width="103" height="30"/><text x="472" y="3424">DNA复制错误</text></g>
<g id="p36"><rect x="422" y="3474" width="146" height="30"/><text x="429" y="3489">DNA自发性化学变化</text></g>
<g id="p37"><rect x="380" y="3538" width="188" height="32"/><text x="387" y="3554">活性氧等代谢副产物的攻击</text></g>
<g id="p38"><rect x="666" y="3700" width="116" height="31"/><text x="673" y="3715">环境中损伤因素</text></g>
<g id="p39"><rect x="580" y="3604" width="59" height="31"/><text x="587" y="3619">紫外线</text></g>
<g id="p40"><rect x="408" y="3604" width="145" height="31"/><text x="415" y="3619">相邻嘧啶形成二聚体</text></g>
<g id="p41"><rect x="566" y="3668" width="73" height="31"/><text x="573" y="3683">电离辐射</text></g>
<g id="p42"><rect x="537" y="3732" width="102" height="32"/><text x="544" y="3748">烷化剂的损伤</text></g>
<g id="p43"><rect x="492" y="3797" width="147" height="32"/><text x="499" y="3813">碱基类似物、修饰剂</text></g>
<g id="p44"><rect x="678" y="3895" width="104" height="31"/><text x="685" y="3910">DNA损伤后果</text></g>
<g id="p45"><rect x="532" y="3862" width="117" height="32"/><text x="539" y="3878">复制、转录受阻</text></g>
<g id="p46"><rect x="416" y="3926" width="233" height="32"/><text x="423" y="3942">DNA结构改变，引起错配，造成突变</text></g>
<g id="p47"><rect x="789" y="5198" width="120" height="31"/><text x="796" y="5213">DNA损伤的修复</text></g>
<g id="p48"><rect x="689" y="4323" width="71" height="31"/><text x="696" y="4338">错配修复</text></g>
<g id="p49"><rect x="617" y="3992" width="44" height="31"/><text x="624" y="4007">贡献</text></g>
<g id="p50"><rect x="324" y="3992" width="266" height="31"/><text x="331" y="4007">使DNA复制的保真性提高100-1000倍</text></g>
<g id="p51"><rect x="617" y="4057" width="44" height="31"/><text x="624" y="4072">条件</text></g>
<g id="p52"><rect x="371" y="4057" width="219" height="31"/><text x="378" y="4072">DNA复制过程中发生碱基错配</text></g>
<g id="p53"><rect x="632" y="4252" width="29" height="30"/><text x="639" y="4267">酶</text></g>
<g id="p54"><rect x="498" y="4121" width="106" height="32"/><text x="505" y="4137">Dam甲基化酶</text></g>
<g id="p55"><rect x="498" y="4187" width="106" height="31"/><text x="505" y="4202">DNA聚合酶Ⅱ</text></g>
<g id="p56"><rect x="498" y="4251" width="106" height="31"/><text x="505" y="4266">DNA聚合酶Ⅲ</text></g>
<g id="p57"><rect x="512" y="4316" width="92" height="31"/><text x="519" y="4331">DNA外切酶</text></g>
<g id="p58"><rect x="532" y="4380" width="72" height="32"/><text x="539" y="4396">核酸酶等</text></g>
<g id="p59"><rect x="588" y="4446" width="73" height="31"/><text x="595" y="4461">修复原则</text></g>
<g id="p60"><rect x="415" y="4446" width="144" height="31"/><text x="422" y="4461">保留母链，修正子链</text></g>
<g id="p61"><rect x="617" y="4654" width="44" height="32"/><text x="624" y="4670">机制</text></g>
<g id="p62"><rect x="283" y="4510" width="307" height="49"/><text x="290" y="4525"><tspan x="290" y="4525">母链GATC序列中A在Dam甲基化酶催化下被甲基</tspan><tspan x="290" y="4544">化</tspan></text></g>
<g id="p63"><rect x="283" y="4593" width="307" height="70"/><text x="290" y="4609"><tspan x="290" y="4609">MutS识别并结合到含碱基错配位点的DN</tspan><tspan x="290" y="4628">A上，MutL、MutH随后结合</tspan><tspan x="290" y="4647">形成复合物</tspan></text></g>
<g id="p64"><rect x="283" y="4696" width="307" height="50"/><text x="290" y="4711"><tspan x="290" y="4711.5">复合物沿DNA双链移动，发现甲基化</tspan><tspan x="290" y="4730.5">GATC，切开未甲基化的子链</tspan></text></g>
<g id="p65"><rect x="283" y="4779" width="307" height="51"/><text x="290" y="4794"><tspan x="290" y="4794.5">DNA外切酶等不同酶参与完成D</tspan><tspan x="290" y="4813.5">NA修复</tspan></text></g>
<g id="p66"><rect x="689" y="4983" width="71" height="31"/><text x="696" y="4998">切除修复</text></g>
<g id="p67"><rect x="617" y="4874" width="44" height="31"/><text x="624" y="4889">条件</text></g>
<g id="p68"><rect x="283" y="4862" width="307" height="52"/><text x="290" y="4878"><tspan x="290" y="4878.5">碱基损伤、脱嘌呤等形成的无碱基位点</tspan><tspan x="290" y="4897.5">、单链断裂等</tspan></text></g>
<g id="p69"><rect x="632" y="4957" width="29" height="31"/><text x="639" y="4972">酶</text></g>
<g id="p70"><rect x="297" y="4947" width="307" height="49"/><text x="304" y="4962"><tspan x="304" y="4962">DNA糖苷酶、AP核酸内切酶、DNA连接</tspan><tspan x="304" y="4981">酶、DNA 聚合酶I</tspan></text></g>
<g id="p71"><rect x="617" y="5092" width="44" height="31"/><text x="624" y="5107">机制</text></g>
<g id="p72"><rect x="283" y="5030" width="307" height="52"/><text x="290" y="5046"><tspan x="290" y="5046.5">DNA糖苷酶识别受损碱基位点，特异性切除受</tspan><tspan x="290" y="5065.5">损碱基，该位点称为AP位点</tspan></text></g>
<g id="p73"><rect x="283" y="5113" width="307" height="89"/><text x="290" y="5129"><tspan x="290" y="5129">AP核酸内切酶切开AP位点核苷酸的糖苷-磷酸</tspan><tspan x="290" y="5148">键，DNA外切酶切除一小片段DNA,并</tspan><tspan x="290" y="5167">由DNA聚合酶I和DNA连接</tspan><tspan x="290" y="5186">酶共同完成修复</tspan></text></g>
<g id="p74"><rect x="674" y="5305" width="86" height="32"/><text x="681" y="5321">光复活作用</text></g>
<g id="p75"><rect x="603" y="5236" width="42" height="31"/><text x="610" y="5251">条件</text></g>
<g id="p76"><rect x="428" y="5236" width="146" height="31"/><text x="435" y="5251">含嘧啶二聚体的DNA</text></g>
<g id="p77"><rect x="617" y="5305" width="28" height="31"/><text x="624" y="5321">酶</text></g>
<g id="p78"><rect x="498" y="5305" width="91" height="31"/><text x="505" y="5321">DNA光解酶</text></g>
<g id="p79"><rect x="603" y="5375" width="42" height="31"/><text x="610" y="5390">机制</text></g>
<g id="p80"><rect x="334" y="5365" width="240" height="50"/><text x="341" y="5380"><tspan x="341" y="5380.5">光解酶打开嘧啶二聚体形成的环</tspan><tspan x="341" y="5399.5">丁烷，恢复原来的碱基。</tspan></text></g>
<g id="p81"><rect x="645" y="5551" width="115" height="31"/><text x="652" y="5566">核苷酸切除修复</text></g>
<g id="p82"><rect x="574" y="5459" width="42" height="31"/><text x="581" y="5474">条件</text></g>
<g id="p83"><rect x="295" y="5450" width="250" height="49"/><text x="302" y="5465"><tspan x="302" y="5465">DNA双螺旋结构发生大的变</tspan><tspan x="302" y="5484">形</tspan></text></g>
<g id="p84"><rect x="588" y="5551" width="28" height="31"/><text x="595" y="5566">酶</text></g>
<g id="p85"><rect x="309" y="5541" width="250" height="50"/><text x="316" y="5556"><tspan x="316" y="5556.5">UvrABC（原核）ε（真</tspan><tspan x="316" y="5575.5">核）</tspan></text></g>
<g id="p86"><rect x="574" y="5645" width="42" height="31"/><text x="581" y="5660">机制</text></g>
<g id="p87"><rect x="295" y="5615" width="250" height="89"/><text x="302" y="5631"><tspan x="302" y="5631">在损伤部位5’和3’位分</tspan><tspan x="302" y="5650">别切开，切除DNA小片段</tspan><tspan x="302" y="5669">，由DNA聚合酶和DNA连接酶完</tspan><tspan x="302" y="5688">成修复</tspan></text></g>
<g id="p88"><rect x="461" y="5776" width="299" height="31"/><text x="468" y="5791">同源重组修复和非同源末端连接复制后修复</text></g>
<g id="p89"><rect x="596" y="5947" width="164" height="32"/><text x="603" y="5963">跨损伤合成 复制后修复</text></g>
<g id="p90"><rect x="525" y="5905" width="43" height="32"/><text x="532" y="5921">条件</text></g>
<g id="p91"><rect x="247" y="5888" width="250" height="67"/><text x="254" y="5902"><tspan x="254" y="5902">DNA损伤过大或存在AP位点等</tspan><tspan x="254" y="5921">，无法使用其他修复机</tspan><tspan x="254" y="5940">制</tspan></text></g>
<g id="p92"><rect x="336" y="5989" width="232" height="31"/><text x="343" y="6004">缺乏校对功能，低保真，错误率高</text></g>
<g id="p93"><rect x="689" y="6072" width="71" height="32"/><text x="696" y="6088">SOS系统</text></g>
<g id="p94"><rect x="354" y="6054" width="307" height="67"/><text x="361" y="6069"><tspan x="361" y="6069">DNA受到严重损伤或DNA复制系统受到</tspan><tspan x="361" y="6088">抑制的紧急情况下，为求生存而出现的应急反</tspan><tspan x="361" y="6107">应</tspan></text></g>
</g>

<g id="b-transposition" class="B">
<g id="t1"><rect x="908" y="6307" width="58" height="31"/><text x="915" y="6322">转座子</text></g>
<g id="t2"><rect x="837" y="6166" width="42" height="31"/><text x="844" y="6181">概念</text></g>
<g id="t3"><rect x="502" y="6155" width="306" height="51"/><text x="509" y="6171"><tspan x="509" y="6171.5">是存在于染 色体DNA上可自主复制和位移的</tspan><tspan x="509" y="6190.5">基本单位</tspan></text></g>
<g id="t4"><rect x="763" y="6449" width="116" height="30"/><text x="770" y="6464">分类及结构特征</text></g>
<g id="t5"><rect x="663" y="6340" width="73" height="31"/><text x="670" y="6356">插入序列</text></g>
<g id="t6"><rect x="519" y="6240" width="116" height="31"/><text x="526" y="6255">最简单的转座子</text></g>
<g id="t7"><rect x="490" y="6304" width="145" height="32"/><text x="497" y="6320">不含有任何宿主基因</text></g>
<g id="t8"><rect x="475" y="6369" width="160" height="31"/><text x="482" y="6385">末端具有倒置重复序列</text></g>
<g id="t9"><rect x="355" y="6434" width="280" height="49"/><text x="362" y="6449"><tspan x="362" y="6449">两端有靶位点 4～15bp的DNA形</tspan><tspan x="362" y="6468">成的正向重复序列</tspan></text></g>
<g id="t10"><rect x="634" y="6556" width="102" height="30"/><text x="641" y="6571">复合型转座子</text></g>
<g id="t11"><rect x="359" y="6519" width="246" height="30"/><text x="366" y="6534">中间含有抗药性基因或其他宿主基因</text></g>
<g id="t12"><rect x="359" y="6585" width="246" height="47"/><text x="366" y="6599"><tspan x="366" y="6599">两翼为两个相同或高度同源</tspan><tspan x="366" y="6618">的IS序列</tspan></text></g>
<g id="t13"><rect x="922" y="6903" width="44" height="32"/><text x="929" y="6919">转座</text></g>
<g id="t14"><rect x="597" y="6667" width="297" height="49"/><text x="604" y="6682"><tspan x="604" y="6682">或称移位，是由可移位因子 介导的遗传物质</tspan><tspan x="604" y="6701">重排现象</tspan></text></g>
<g id="t15"><rect x="851" y="6827" width="43" height="31"/><text x="858" y="6842">机制</text></g>
<g id="t16"><rect x="737" y="6760" width="87" height="31"/><text x="744" y="6775">复制性转座</text></g>
<g id="t17"><rect x="401" y="6750" width="307" height="50"/><text x="408" y="6765"><tspan x="408" y="6765.5">转座过程中整个转座子被复制，所移动的仅仅</tspan><tspan x="408" y="6784.5">是原转座子的拷贝。（逆转录转座子）</tspan></text></g>
<g id="t18"><rect x="721" y="6893" width="103" height="33"/><text x="728" y="6909">非复制性转座</text></g>
<g id="t19"><rect x="386" y="6834" width="307" height="68"/><text x="393" y="6849"><tspan x="393" y="6849">转座子从供体一个位点转移到受体新位点处</tspan><tspan x="393" y="6868">，供体位点留下缺口，受到损伤（严重时致</tspan><tspan x="393" y="6887">死）或被宿主修复系 统识别修复。</tspan></text></g>
<g id="t20"><rect x="607" y="6936" width="86" height="31"/><text x="614" y="6951">只需转座酶</text></g>
<g id="t21"><rect x="734" y="7130" width="160" height="33"/><text x="741" y="7146">转座作用的遗传学效应</text></g>
<g id="t22"><rect x="575" y="7002" width="131" height="31"/><text x="582" y="7017">转座引起插入突变</text></g>
<g id="t23"><rect x="384" y="7066" width="322" height="32"/><text x="391" y="7082">转座后靶DNA或插入位点靶DNA的少量碱基对重复</text></g>
<g id="t24"><rect x="561" y="7130" width="145" height="33"/><text x="568" y="7146">插入位点出现新基因</text></g>
<g id="t25"><rect x="590" y="7196" width="116" height="31"/><text x="597" y="7211">引起染色体畸变</text></g>
<g id="t26"><rect x="561" y="7260" width="145" height="31"/><text x="568" y="7275">转座引起的生物进化</text></g>
<g id="t27"><rect x="829" y="7324" width="137" height="32"/><text x="836" y="7340">转座子效应的意义</text></g>
<g id="t28"><rect x="834" y="7450" width="132" height="32"/><text x="841" y="7466">真核生物的转座子</text></g>
<g id="t29"><rect x="500" y="7390" width="307" height="51"/><text x="507" y="7406"><tspan x="507" y="7406">自主性因子（Ac，非自主移动的受体因子）</tspan><tspan x="507" y="7425">：自主剪切和转座</tspan></text></g>
<g id="t30"><rect x="500" y="7472" width="307" height="88"/><text x="507" y="7488"><tspan x="507" y="7488">非自主性因子（Ds，自主移动的调节因子）</tspan><tspan x="507" y="7507">：存在与之同家族的自主性因子提供反式作用</tspan><tspan x="507" y="7526">蛋白（转座酶），才具转座功能，为Ac的缺</tspan><tspan x="507" y="7545">失突变体</tspan></text></g>
</g>
</g>
<g id="watermark" class="wm">
<text x="350" y="685" transform="rotate(-31.5 350 685)">树图 shutu.cn</text>
<text x="350" y="1685" transform="rotate(-31.5 350 1685)">树图 shutu.cn</text>
<text x="350" y="2685" transform="rotate(-31.5 350 2685)">树图 shutu.cn</text>
<text x="350" y="3685" transform="rotate(-31.5 350 3685)">树图 shutu.cn</text>
<text x="350" y="4685" transform="rotate(-31.5 350 4685)">树图 shutu.cn</text>
<text x="350" y="5685" transform="rotate(-31.5 350 5685)">树图 shutu.cn</text>
<text x="350" y="6685" transform="rotate(-31.5 350 6685)">树图 shutu.cn</text>
<text x="350" y="7615" transform="rotate(-31.5 350 7615)">树图 shutu.cn</text>
<text x="1628" y="701" transform="rotate(-31.5 1628 701)">树图 shutu.cn</text>
<text x="1628" y="1701" transform="rotate(-31.5 1628 1701)">树图 shutu.cn</text>
<text x="1628" y="2701" transform="rotate(-31.5 1628 2701)">树图 shutu.cn</text>
<text x="1628" y="3701" transform="rotate(-31.5 1628 3701)">树图 shutu.cn</text>
<text x="1628" y="4701" transform="rotate(-31.5 1628 4701)">树图 shutu.cn</text>
<text x="1628" y="5701" transform="rotate(-31.5 1628 5701)">树图 shutu.cn</text>
<text x="1628" y="6701" transform="rotate(-31.5 1628 6701)">树图 shutu.cn</text>
<text x="1628" y="7615" transform="rotate(-31.5 1628 7615)">树图 shutu.cn</text>
</g>
</g>
</svg>
